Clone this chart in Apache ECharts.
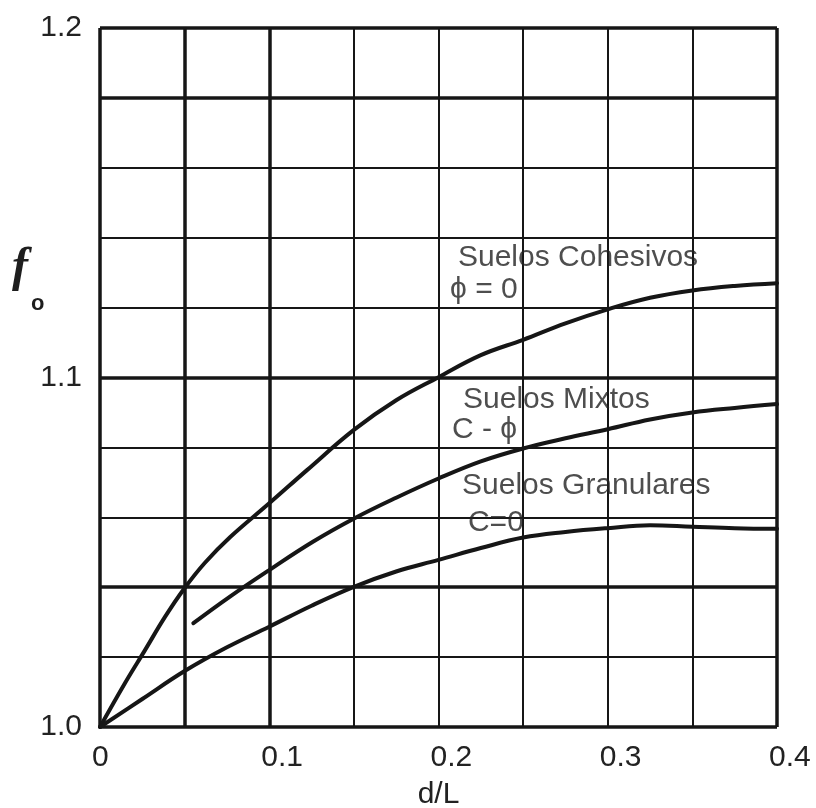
<!DOCTYPE html>
<html>
<head>
<meta charset="utf-8">
<script src="https://cdn.jsdelivr.net/npm/echarts@6/dist/echarts.min.js"></script>
<style>
  html, body { margin: 0; padding: 0; background: #fff; }
  #chart { width: 816px; height: 808px; }
</style>
</head>
<body>
<div id="chart"></div>
<script>
// tick labels
var xTicks = [0, 0.1, 0.2, 0.3, 0.4];
var yTicks = [1.0, 1.1, 1.2];

// grid lines of the chart paper, heavy ones listed apart
var gridX = [0, 0.05, 0.1, 0.15, 0.2, 0.25, 0.3, 0.35, 0.4];
var gridY = [1.0, 1.02, 1.04, 1.06, 1.08, 1.1, 1.12, 1.14, 1.16, 1.18, 1.2];
var heavyX = [0, 0.05, 0.1, 0.4];
var heavyY = [1.0, 1.04, 1.1, 1.18, 1.2];

// curves (d/L , fo)
var cohesivosX = [0, 0.0148, 0.0266, 0.0384, 0.0496, 0.062, 0.0768, 0.1, 0.1223, 0.15, 0.175, 0.2, 0.225, 0.25, 0.275, 0.3, 0.325, 0.35, 0.375, 0.4];
var cohesivosY = [1.0, 1.0126, 1.022, 1.0315, 1.0395, 1.047, 1.0543, 1.064, 1.0735, 1.085, 1.0935, 1.1001, 1.1064, 1.1108, 1.1155, 1.1195, 1.1228, 1.1249, 1.1262, 1.127];

var mixtosX = [0.0552, 0.0768, 0.1, 0.1258, 0.1507, 0.175, 0.2, 0.225, 0.25, 0.275, 0.3, 0.325, 0.35, 0.375, 0.4];
var mixtosY = [1.0297, 1.0373, 1.0449, 1.053, 1.0598, 1.0656, 1.0711, 1.076, 1.0797, 1.0826, 1.0852, 1.088, 1.09, 1.0913, 1.0924];

var granularesX = [0, 0.025, 0.05, 0.075, 0.1, 0.125, 0.15, 0.175, 0.2, 0.225, 0.25, 0.275, 0.3, 0.325, 0.35, 0.375, 0.4];
var granularesY = [1.0, 1.008, 1.016, 1.0228, 1.0287, 1.0347, 1.0401, 1.0445, 1.0478, 1.0512, 1.0542, 1.0558, 1.0569, 1.0577, 1.0573, 1.0569, 1.0567];

// curve notes: text lines and where they sit (d/L , fo)
var notes = [
  { text: 'Suelos Cohesivos', at: [0.2115, 1.1342] },
  { text: '\u03d5 = 0', at: [0.2068, 1.125] },
  { text: 'Suelos Mixtos', at: [0.2145, 1.0936] },
  { text: 'C - \u03d5', at: [0.208, 1.085] },
  { text: 'Suelos Granulares', at: [0.2139, 1.069] },
  { text: 'C=0', at: [0.2174, 1.0584] }
];

function zip(xs, ys) {
  return xs.map(function (x, i) { return [x, ys[i]]; });
}

var ink = '#161616';
var textGray = '#222';

var paperLines = [];
gridX.forEach(function (v) {
  paperLines.push({ xAxis: v, lineStyle: { width: heavyX.indexOf(v) >= 0 ? 3.5 : 2 } });
});
gridY.forEach(function (v) {
  paperLines.push({ yAxis: v, lineStyle: { width: heavyY.indexOf(v) >= 0 ? 3.5 : 2 } });
});

function curve(name, xs, ys) {
  return {
    name: name,
    type: 'line',
    data: zip(xs, ys),
    smooth: 0.4,
    showSymbol: false,
    silent: true,
    z: 5,
    lineStyle: { color: ink, width: 4, cap: 'round' }
  };
}

var chart = echarts.init(document.getElementById('chart'));

chart.setOption({
  animation: false,
  backgroundColor: '#fff',
  textStyle: { fontFamily: 'Liberation Sans, Arial, sans-serif' },
  grid: { left: 100, right: 39, top: 28, bottom: 81, outerBoundsMode: 'none', containLabel: false },
  xAxis: {
    type: 'value',
    min: 0,
    max: 0.4,
    interval: 0.1,
    name: 'd/L',
    nameLocation: 'middle',
    nameGap: 53,
    nameTextStyle: { fontSize: 30, color: textGray },
    axisLine: { show: false },
    axisTick: { show: false },
    splitLine: { show: false },
    axisLabel: {
      fontSize: 30,
      color: textGray,
      margin: 16,
      align: 'left',
      padding: [0, 0, 0, -8],
      formatter: function (v) {
        var t = xTicks.find(function (k) { return Math.abs(k - v) < 1e-9; });
        return t === 0 ? '0' : String(t);
      }
    }
  },
  yAxis: {
    type: 'value',
    min: 1.0,
    max: 1.2,
    interval: 0.1,
    axisLine: { show: false },
    axisTick: { show: false },
    splitLine: { show: false },
    axisLabel: {
      fontSize: 30,
      color: textGray,
      margin: 18,
      padding: [0, 0, 10, 0],
      formatter: function (v) {
        var t = yTicks.find(function (k) { return Math.abs(k - v) < 1e-9; });
        return t.toFixed(1);
      }
    }
  },
  graphic: [
    {
      type: 'text',
      left: 12,
      top: 245,
      style: {
        text: 'f',
        font: 'italic bold 48px "Liberation Serif", serif',
        fill: '#1e1e1e'
      }
    },
    {
      type: 'text',
      left: 31,
      top: 293,
      style: {
        text: 'o',
        font: 'bold 22px "Liberation Sans", sans-serif',
        fill: '#1e1e1e'
      }
    }
  ],
  series: [
    {
      name: 'paper',
      type: 'line',
      data: [],
      clip: false,
      silent: true,
      z: 1,
      markLine: {
        silent: true,
        symbol: 'none',
        animation: false,
        label: { show: false },
        lineStyle: { color: ink, type: 'solid' },
        data: paperLines
      }
    },
    curve('Suelos Cohesivos', cohesivosX, cohesivosY),
    curve('Suelos Mixtos', mixtosX, mixtosY),
    curve('Suelos Granulares', granularesX, granularesY),
    {
      name: 'notes',
      type: 'scatter',
      symbolSize: 0,
      silent: true,
      z: 6,
      data: notes.map(function (n) { return { value: n.at, name: n.text }; }),
      label: {
        show: true,
        position: 'inside',
        align: 'left',
        verticalAlign: 'middle',
        fontSize: 30,
        color: '#222',
        formatter: function (p) { return p.name; }
      }
    }
  ]
});

window.addEventListener('resize', function () { chart.resize(); });
</script>
</body>
</html>
